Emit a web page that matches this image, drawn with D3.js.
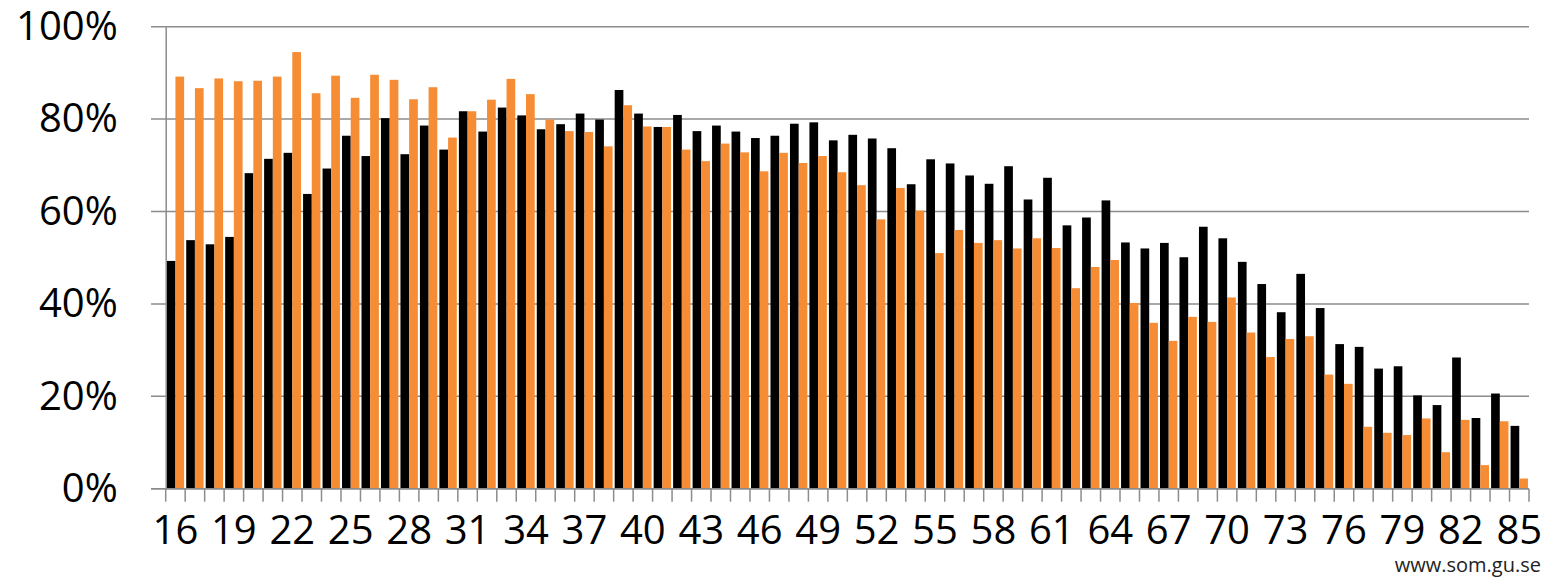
<!DOCTYPE html>
<html>
<head>
<meta charset="utf-8">
<script src="https://cdn.jsdelivr.net/npm/d3@7"></script>
<style>
  html, body { margin: 0; padding: 0; background: #fff; }
  svg { display: block; }
  text { font-family: "Open Sans", "DejaVu Sans", sans-serif; }
</style>
</head>
<body>
<svg id="chart" width="1547" height="578"></svg>
<script>
// ---- Data ----
const ages = d3.range(16, 86).map(String);
const seriesBlack = [
  49.3, 53.8, 52.9, 54.5, 68.3, 71.4, 72.7, 63.8, 69.3, 76.4,
  72.0, 80.2, 72.4, 78.6, 73.4, 81.7, 77.3, 82.5, 80.8, 77.8,
  78.9, 81.2, 79.9, 86.3, 81.2, 78.3, 80.9, 77.4, 78.6, 77.3,
  75.9, 76.4, 79.0, 79.3, 75.4, 76.6, 75.8, 73.7, 65.9, 71.3,
  70.4, 67.8, 66.0, 69.8, 62.6, 67.3, 57.0, 58.7, 62.4, 53.3,
  52.0, 53.2, 50.1, 56.7, 54.2, 49.1, 44.3, 38.2, 46.5, 39.1,
  31.3, 30.7, 26.0, 26.5, 20.2, 18.1, 28.4, 15.3, 20.6, 13.6
];
const seriesOrange = [
  89.2, 86.7, 88.8, 88.2, 88.3, 89.2, 94.5, 85.6, 89.4, 84.6,
  89.6, 88.5, 84.3, 86.9, 76.0, 81.7, 84.2, 88.7, 85.4, 79.9,
  77.4, 77.2, 74.1, 83.0, 78.4, 78.3, 73.4, 70.9, 74.7, 72.8,
  68.7, 72.7, 70.5, 72.0, 68.5, 65.7, 58.3, 65.1, 60.2, 51.0,
  56.0, 53.2, 53.8, 52.0, 54.2, 52.1, 43.4, 48.0, 49.5, 40.2,
  35.9, 32.0, 37.2, 36.1, 41.4, 33.8, 28.5, 32.4, 33.0, 24.7,
  22.7, 13.4, 12.1, 11.6, 15.2, 7.9, 14.9, 5.1, 14.6, 2.2
];
const yTicks = [0, 20, 40, 60, 80, 100];
const xLabels = ages.filter((a, i) => i % 3 === 0);
const seriesKeys = ["black", "orange"];
const seriesColors = { black: "#000000", orange: "#F68C33" };
const footer = "www.som.gu.se";

// ---- Layout ----
const svg = d3.select("#chart");
const mLeft = 165.7, mRight = 1529, mTop = 26.7, mBottom = 488.7;
const gridColor = "#8c8c8c";

const x = d3.scaleBand().domain(ages).range([mLeft, mRight]).padding(0);
const xs = d3.scaleBand().domain(seriesKeys).range([0, x.bandwidth()])
  .paddingInner(0).paddingOuter(0.12);
const y = d3.scaleLinear().domain([0, 100]).range([mBottom, mTop]);

// gridlines
svg.append("g").selectAll("line").data(yTicks).join("line")
  .attr("x1", 151).attr("x2", mRight)
  .attr("y1", d => y(d)).attr("y2", d => y(d))
  .attr("stroke", gridColor).attr("stroke-width", 1.5);

// bars
const rows = ages.map((a, i) => ({ age: a, black: seriesBlack[i], orange: seriesOrange[i] }));
const g = svg.append("g");
seriesKeys.forEach(k => {
  g.selectAll("rect." + k).data(rows).join("rect")
    .attr("class", k)
    .attr("x", d => x(d.age) + xs(k))
    .attr("width", xs.bandwidth())
    .attr("y", d => y(d[k]))
    .attr("height", d => y(0) - y(d[k]))
    .attr("fill", seriesColors[k]);
});

// y axis
const yAxis = svg.append("g").attr("transform", `translate(${mLeft},0)`)
  .call(d3.axisLeft(y).tickValues(yTicks).tickFormat(d => d + "%").tickSize(0).tickPadding(48));
yAxis.select(".domain").attr("stroke", gridColor).attr("stroke-width", 1.5);
yAxis.selectAll("text").attr("font-size", 40).attr("fill", "#000")
  .attr("font-family", "'Open Sans', sans-serif");

// x axis baseline
svg.append("line").attr("x1", 151).attr("x2", mRight)
  .attr("y1", y(0)).attr("y2", y(0))
  .attr("stroke", gridColor).attr("stroke-width", 1.5);

// x tick marks at category boundaries
const bounds = ages.map(a => x(a)).concat([mRight]);
svg.append("g").selectAll("line").data(bounds).join("line")
  .attr("x1", d => d).attr("x2", d => d)
  .attr("y1", y(0)).attr("y2", y(0) + 13)
  .attr("stroke", gridColor).attr("stroke-width", 1.5);

// x labels
const xAxis = svg.append("g").attr("transform", `translate(0,${mBottom})`)
  .call(d3.axisBottom(x).tickValues(xLabels).tickSize(0).tickPadding(27));
xAxis.select(".domain").remove();
xAxis.selectAll("text").attr("font-size", 40).attr("fill", "#000")
  .attr("font-family", "'Open Sans', sans-serif");

// footer
svg.append("text").attr("x", 1541).attr("y", 572)
  .attr("text-anchor", "end").attr("font-size", 20).attr("fill", "#222")
  .text(footer);
</script>
</body>
</html>
